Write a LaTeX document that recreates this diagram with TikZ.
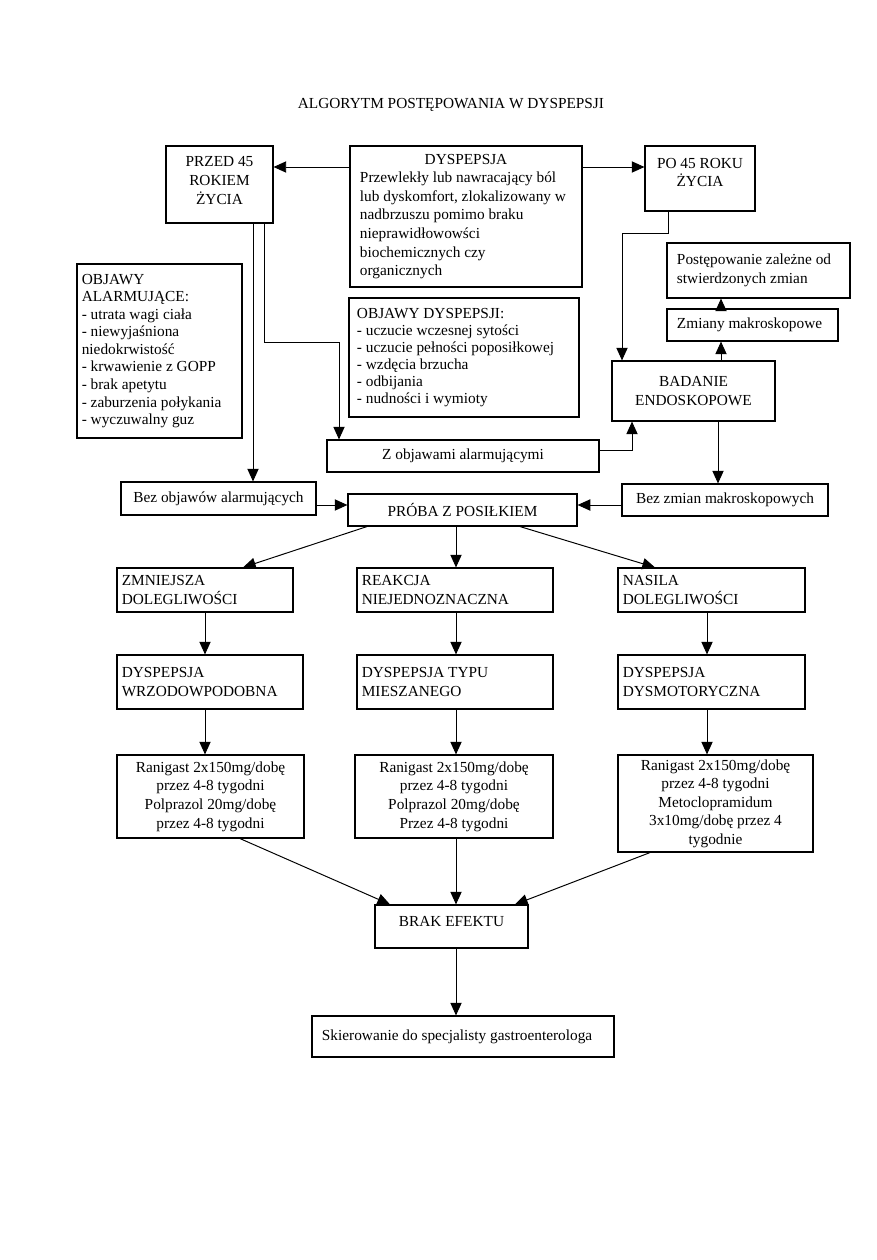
\documentclass[tikz,border=0pt]{standalone}
\usepackage{fontspec}
\setmainfont{Liberation Serif}
\usetikzlibrary{arrows.meta}

\begin{document}
\begin{tikzpicture}[
    x=0.025cm, y=-0.025cm,
    font=\fontsize{10.9}{13.2}\selectfont,
    box/.style={draw, line width=0.8pt, align=center, inner sep=0pt},
    lbox/.style={draw, line width=0.8pt, align=flush left, inner xsep=0.12cm, inner ysep=0pt},
    uni/.style={-{Triangle[length=9pt,width=8pt]}, line width=0.7pt}
]
    \path[use as bounding box, fill=white] (0,0) rectangle (876,1260);

    \node (title) at (451,105) {ALGORYTM POSTĘPOWANIA W DYSPEPSJI};

    % top row
    \node[box, minimum width=2.675cm, minimum height=1.925cm] (przed) at (219.5,184.5) {PRZED 45\\ROKIEM\\ŻYCIA\\[-7.5pt]};
    \node[lbox, inner xsep=0.25cm, text width=5.3cm, minimum height=3.525cm] (dysp) at (466,216.5)
        {\makebox[\hsize]{DYSPEPSJA}\\Przewlekły lub nawracający ból\\lub dyskomfort, zlokalizowany w\\nadbrzuszu pomimo braku\\nieprawidłowowści\\biochemicznych czy\\organicznych};
    \node[box, minimum width=2.75cm, minimum height=1.625cm] (po) at (700,178.5) {PO 45 ROKU\\ŻYCIA\\[-4.7pt]};

    % right branch
    \node[lbox, inner xsep=0.25cm, text width=4.075cm, minimum height=1.375cm] (postep) at (758.5,270.5) {Postępowanie zależne od\\stwierdzonych zmian};
    \node[lbox, inner xsep=0.25cm, text width=3.775cm, minimum height=0.8cm] (zmiany) at (752.5,325) {Zmiany makroskopowe};
    \node[box, minimum width=4.075cm, minimum height=1.5cm] (badanie) at (693.5,391) {BADANIE\\ENDOSKOPOWE};

    % symptoms
    \node[lbox, font=\fontsize{10.9}{12.5}\selectfont, text width=3.885cm, minimum height=4.35cm] (alarm) at (159.5,351)
        {OBJAWY\\ALARMUJĄCE:\\- utrata wagi ciała\\- niewyjaśniona\\niedokrwistość\\- krwawienie z GOPP\\- brak apetytu\\- zaburzenia połykania\\- wyczuwalny guz};
    \node[lbox, font=\fontsize{10.9}{12.1}\selectfont, inner xsep=0.2cm, text width=5.35cm, minimum height=2.975cm] (objdysp) at (464,357.5)
        {OBJAWY DYSPEPSJI:\\- uczucie wczesnej sytości\\- uczucie pełności poposiłkowej\\- wzdęcia brzucha\\- odbijania\\- nudności i wymioty};

    \node[box, minimum width=6.8cm, minimum height=0.8cm] (zobj) at (463,456) {Z objawami alarmującymi};
    \node[box, minimum width=4.875cm, minimum height=0.825cm] (bezobj) at (218.5,498.5) {Bez objawów alarmujących};
    \node[box, minimum width=5.725cm, minimum height=0.8cm] (proba) at (462.5,510) {PRÓBA Z POSIŁKIEM};
    \node[box, minimum width=5.15cm, minimum height=0.8cm] (bezzmian) at (725,500) {Bez zmian makroskopowych};

    % reaction to the meal
    \node[lbox, text width=4.16cm, minimum height=1.1cm] (zmn) at (205,590) {ZMNIEJSZA\\DOLEGLIWOŚCI};
    \node[lbox, text width=4.66cm, minimum height=1.1cm] (reak) at (455,590) {REAKCJA\\NIEJEDNOZNACZNA};
    \node[lbox, text width=4.435cm, minimum height=1.1cm] (nasila) at (711.5,590) {NASILA\\DOLEGLIWOŚCI};

    \node[lbox, text width=4.41cm, minimum height=1.35cm] (wrzod) at (210,682) {DYSPEPSJA\\WRZODOWPODOBNA\\[-8.2pt]};
    \node[lbox, text width=4.66cm, minimum height=1.35cm] (miesz) at (455,682) {DYSPEPSJA TYPU\\MIESZANEGO\\[-8.2pt]};
    \node[lbox, text width=4.435cm, minimum height=1.35cm] (dysmot) at (711.5,682) {DYSPEPSJA\\DYSMOTORYCZNA\\[-8.2pt]};

    % treatment
    \node[box, minimum width=4.675cm, minimum height=2.075cm] (lekA) at (210.5,796.5)
        {Ranigast 2x150mg/dobę\\przez 4-8 tygodni\\Polprazol 20mg/dobę\\przez 4-8 tygodni};
    \node[box, minimum width=4.95cm, minimum height=2.075cm] (lekB) at (454,796.5)
        {Ranigast 2x150mg/dobę\\przez 4-8 tygodni\\Polprazol 20mg/dobę\\Przez 4-8 tygodni};
    \node[box, minimum width=4.875cm, minimum height=2.425cm] (lekC) at (715.5,803.5)
        {Ranigast 2x150mg/dobę\\przez 4-8 tygodni\\Metoclopramidum\\3x10mg/dobę przez 4\\tygodnie};

    \node[box, minimum width=3.825cm, minimum height=1.075cm] (brak) at (451.5,926.5) {BRAK EFEKTU\\[-5.4pt]};
    \node[lbox, inner xsep=0.25cm, text width=7.05cm, minimum height=1.025cm] (skier) at (463,1036.5) {Skierowanie do specjalisty gastroenterologa};

    % connectors
    \draw[uni] (dysp.west |- 0,167) -- (przed.east |- 0,167);
    \draw[uni] (dysp.east |- 0,167) -- (po.west |- 0,167);
    \draw[uni] (przed.south -| 253,0) -- (bezobj.north -| 253,0);
    \draw[uni] (przed.south -| 264,0) |- (339,342) -- (zobj.north -| 339,0);
    \draw[uni] (zobj.east |- 0,450) -| (badanie.south -| 632,0);
    \draw[uni] (po.south -| 668,0) |- (622,233) -- (badanie.north -| 622,0);
    \draw[uni] (badanie.north -| 721,0) -- (zmiany.south -| 721,0);
    \draw[uni] (zmiany.north -| 721,0) -- (postep.south -| 721,0);
    \draw[uni] (badanie.south -| 718,0) -- (bezzmian.north -| 718,0);
    \draw[uni] (bezobj.east |- 0,505) -- (proba.west |- 0,505);
    \draw[uni] (bezzmian.west |- 0,505) -- (proba.east |- 0,505);

    \draw[uni] (proba.south -| 367,0) -- (zmn.north -| 243,0);
    \draw[uni] (proba.south -| 456,0) -- (reak.north -| 456,0);
    \draw[uni] (proba.south -| 520,0) -- (nasila.north -| 655,0);

    \draw[uni] (zmn.south -| 205,0) -- (wrzod.north -| 205,0);
    \draw[uni] (wrzod.south -| 205,0) -- (lekA.north -| 205,0);
    \draw[uni] (reak.south -| 456,0) -- (miesz.north -| 456,0);
    \draw[uni] (miesz.south -| 456,0) -- (lekB.north -| 456,0);
    \draw[uni] (nasila.south -| 707,0) -- (dysmot.north -| 707,0);
    \draw[uni] (dysmot.south -| 707,0) -- (lekC.north -| 707,0);

    \draw[uni] (lekA.south -| 240,0) -- (brak.north -| 390,0);
    \draw[uni] (lekB.south -| 456,0) -- (brak.north -| 456,0);
    \draw[uni] (lekC.south -| 650,0) -- (brak.north -| 515,0);
    \draw[uni] (brak.south -| 456,0) -- (skier.north -| 456,0);
\end{tikzpicture}
\end{document}
